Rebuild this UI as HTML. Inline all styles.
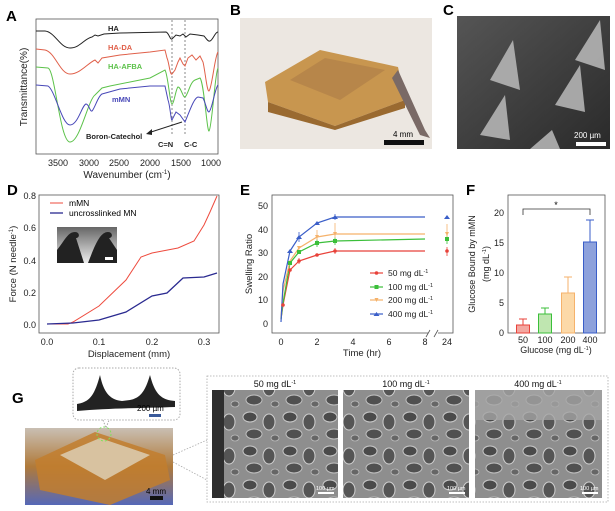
<!DOCTYPE html>
<html><head><meta charset="utf-8"><style>
html,body{margin:0;padding:0;background:#fff;}
svg{display:block;font-family:"Liberation Sans",Arial,sans-serif;}
</style></head><body>
<svg width="615" height="511" viewBox="0 0 615 511" xmlns="http://www.w3.org/2000/svg">
<defs>
<linearGradient id="gC" x1="0" y1="0" x2="1" y2="1"><stop offset="0" stop-color="#555"/><stop offset="1" stop-color="#2a2a2a"/></linearGradient>
<linearGradient id="gI" x1="0" y1="0" x2="0" y2="1"><stop offset="0" stop-color="#666"/><stop offset="1" stop-color="#eee"/></linearGradient>
<linearGradient id="gG" x1="0" y1="0" x2="0" y2="1"><stop offset="0" stop-color="#c9bfb3"/><stop offset="0.5" stop-color="#b07a3a"/><stop offset="1" stop-color="#5568b8"/></linearGradient>
<pattern id="sem" width="40" height="34" patternUnits="userSpaceOnUse"><rect width="40" height="34" fill="#8e8e8e"/>
<ellipse cx="10" cy="9" rx="7" ry="5" fill="#4a4a4a" stroke="#c8c8c8" stroke-width="1"/>
<ellipse cx="29" cy="14" rx="6" ry="8" fill="#555" stroke="#cfcfcf" stroke-width="1"/>
<ellipse cx="14" cy="26" rx="8" ry="5" fill="#505050" stroke="#c0c0c0" stroke-width="1"/>
<ellipse cx="35" cy="30" rx="4" ry="3" fill="#666" stroke="#bbb" stroke-width="0.8"/>
</pattern>
</defs>

<!-- Panel A -->
<text x="6" y="21" font-size="15" font-weight="bold">A</text>
<rect x="36" y="19" width="182" height="135" fill="none" stroke="#555" stroke-width="0.8"/>
<g stroke-width="1" fill="none">
<line x1="172" y1="20" x2="172" y2="136" stroke="#888" stroke-dasharray="2,2"/>
<line x1="185" y1="20" x2="185" y2="136" stroke="#888" stroke-dasharray="2,2"/>
<path stroke="#222" d="M36,31 L45,31 C55,32 60,48 70,48 C80,48 85,38 92,37 L95,35 L98,36 L104,34 L120,33 L166,32 C169,33 170,40 172,39 L176,35 L180,36 L183,34 L186,37 L190,34 L198,35 L204,36 C206,38 208,42 210,41 C213,40 215,32 218,32"/>
<path stroke="#e0604a" d="M36,49 L45,50 C55,52 60,74 70,74 C80,74 88,63 95,60 L98,63 L102,58 L120,55 L150,52 L165,50 L167,58 C169,62 170,76 172,74 L175,70 L178,62 L180,58 L183,64 L185,66 L188,58 L192,55 L196,60 L200,56 L203,62 C205,70 207,92 209,91 C212,88 215,55 218,52"/>
<path stroke="#5cc24a" d="M36,67 L48,68 C55,70 60,142 70,142 C80,142 88,100 95,95 L98,92 L102,88 L110,86 L130,82 L150,78 L165,70 C168,75 170,104 172,104 C174,104 176,88 178,87 C181,87 183,98 185,97 C188,95 190,82 195,80 L200,78 C204,82 207,132 209,131 C212,128 215,72 218,68"/>
<path stroke="#4848b8" d="M36,85 L48,86 C55,90 62,125 70,125 C78,125 82,105 86,104 C89,104 90,112 92,111 C95,108 98,96 102,94 L120,89 L150,86 L165,86 L168,100 C170,105 171,121 172,120 L176,112 L180,115 L185,122 C190,110 194,98 198,97 L203,98 C206,104 207,112 209,112 C212,110 215,88 218,85"/>
<line x1="182" y1="122" x2="148" y2="133" stroke="#222"/>
</g>
<path d="M146,134 L152,129 L152,135 Z" fill="#222"/>
<g font-size="7.5" font-weight="bold">
<text x="108" y="31" fill="#222">HA</text>
<text x="108" y="50" fill="#e0604a">HA-DA</text>
<text x="108" y="69" fill="#5cc24a">HA-AFBA</text>
<text x="112" y="102" fill="#4848b8">mMN</text>
<text x="86" y="139" fill="#222">Boron-Catechol</text>
<text x="158" y="147" fill="#222">C=N</text>
<text x="184" y="147" fill="#222">C-C</text>
</g>
<g font-size="9" fill="#222" text-anchor="middle">
<text x="58" y="166">3500</text><text x="89" y="166">3000</text><text x="119" y="166">2500</text><text x="150" y="166">2000</text><text x="181" y="166">1500</text><text x="211" y="166">1000</text>
<text x="127" y="178" font-size="10">Wavenumber (cm<tspan font-size="6" dy="-4">-1</tspan><tspan dy="4">)</tspan></text>
<text transform="translate(27,87) rotate(-90)" font-size="10">Transmittance(%)</text>
</g>

<!-- Panel B -->
<text x="230" y="15" font-size="15" font-weight="bold">B</text>
<rect x="240" y="18" width="192" height="131" fill="#ece7e1"/>
<path d="M265,82 L320,50 L398,67 L405,100 L335,126 L268,102 Z" fill="#c8964f"/>
<path d="M268,102 L335,126 L405,100 L405,108 L335,130 L268,112 Z" fill="#9a6a30"/>
<path d="M290,80 L325,58 L385,70 L340,100 Z" fill="#b7864a"/>
<path d="M398,70 L425,130 L430,138 L420,135 L392,78 Z" fill="#7a6a66"/>
<rect x="384" y="140" width="40" height="5" fill="#111"/>
<text x="393" y="137" font-size="8">4 mm</text>

<!-- Panel C -->
<text x="443" y="15" font-size="15" font-weight="bold">C</text>
<rect x="457" y="16" width="153" height="133" fill="url(#gC)"/>
<g fill="#bbb" opacity="0.85">
<path d="M513,40 L520,90 L490,80 Z"/><path d="M600,20 L605,70 L575,60 Z"/><path d="M580,65 L585,112 L555,105 Z"/><path d="M505,95 L510,140 L480,135 Z"/><path d="M552,130 L560,149 L530,149 Z"/>
</g>
<rect x="576" y="142" width="30" height="4" fill="#fff"/>
<text x="574" y="138" font-size="8" fill="#fff">200 µm</text>

<!-- Panel D -->
<text x="7" y="195" font-size="15" font-weight="bold">D</text>
<rect x="39" y="195" width="180" height="138" fill="none" stroke="#555" stroke-width="0.8"/>
<g font-size="9" fill="#222" text-anchor="end">
<text x="36" y="328">0.0</text><text x="36" y="296">0.2</text><text x="36" y="264">0.4</text><text x="36" y="231">0.6</text><text x="36" y="199">0.8</text>
</g>
<g font-size="9" fill="#222" text-anchor="middle">
<text x="47" y="345">0.0</text><text x="99" y="345">0.1</text><text x="152" y="345">0.2</text><text x="204" y="345">0.3</text>
<text x="129" y="357" font-size="9.5">Displacement (mm)</text>
<text transform="translate(16,264) rotate(-90)" font-size="9.5">Force (N needle<tspan font-size="6" dy="-3">-1</tspan><tspan dy="3">)</tspan></text>
</g>
<polyline fill="none" stroke="#ee4b3e" stroke-width="1" points="47,324 68,324 73,322 99,306 126,280 141,257 152,253 178,248 194,241 204,225 210,212 217,196"/>
<polyline fill="none" stroke="#2a2a90" stroke-width="1.3" points="47,324 73,323 99,320 126,312 152,296 167,293 183,278 204,277 217,273"/>
<line x1="50" y1="203" x2="63" y2="203" stroke="#ee4b3e"/><text x="69" y="206" font-size="8.5">mMN</text>
<line x1="50" y1="213" x2="63" y2="213" stroke="#2a2a90" stroke-width="1.3"/><text x="69" y="216" font-size="8.5">uncrosslinked MN</text>
<rect x="57" y="227" width="60" height="36" fill="url(#gI)"/>
<path d="M57,263 L57,250 C65,240 68,232 75,232 C80,232 80,238 76,238 L84,263 Z M88,263 C95,245 100,232 108,232 C113,232 113,238 109,238 L117,250 L117,263 Z" fill="#222"/>
<rect x="105" y="257" width="8" height="3" fill="#fff"/>

<!-- Panel E -->
<text x="240" y="195" font-size="15" font-weight="bold">E</text>
<rect x="272" y="195" width="181" height="138" fill="none" stroke="#555" stroke-width="0.8"/>
<rect x="428" y="330" width="10" height="6" fill="#fff"/>
<line x1="426" y1="337" x2="430" y2="330" stroke="#555" stroke-width="0.8"/><line x1="434" y1="337" x2="438" y2="330" stroke="#555" stroke-width="0.8"/>
<g font-size="9" fill="#222" text-anchor="end">
<text x="268" y="327">0</text><text x="268" y="303">10</text><text x="268" y="280">20</text><text x="268" y="256">30</text><text x="268" y="233">40</text><text x="268" y="209">50</text>
</g>
<g font-size="9" fill="#222" text-anchor="middle">
<text x="281" y="345">0</text><text x="317" y="345">2</text><text x="353" y="345">4</text><text x="389" y="345">6</text><text x="425" y="345">8</text><text x="447" y="345">24</text>
<text x="362" y="356" font-size="9.5">Time (hr)</text>
<text transform="translate(252,264) rotate(-90)" font-size="9.5">Swelling  Ratio</text>
</g>
<g fill="none" stroke-width="1.2">
<polyline stroke="#e8423a" points="281,319 283,305 290,270 299,261 317,255 335,251 425,251"/>
<polyline stroke="#3bbf3a" points="281,319 283,303 290,263 299,252 317,243 335,241 425,239"/>
<polyline stroke="#f5b26b" points="281,317 283,291 290,261 299,248 317,237 335,234 425,234"/>
<polyline stroke="#3a5ec8" points="281,322 283,284 290,251 299,237 317,223 335,217 425,217"/>
</g>
<g stroke-width="0.8">
<line x1="299" y1="258" x2="299" y2="264" stroke="#e8423a"/><line x1="335" y1="248" x2="335" y2="254" stroke="#e8423a"/><line x1="447" y1="247" x2="447" y2="256" stroke="#e8423a"/>
<line x1="317" y1="239" x2="317" y2="247" stroke="#3bbf3a"/><line x1="335" y1="237" x2="335" y2="245" stroke="#3bbf3a"/><line x1="447" y1="235" x2="447" y2="244" stroke="#3bbf3a"/>
<line x1="317" y1="230" x2="317" y2="240" stroke="#f5b26b"/><line x1="335" y1="223" x2="335" y2="238" stroke="#f5b26b"/><line x1="447" y1="224" x2="447" y2="238" stroke="#f5b26b"/>
<line x1="299" y1="232" x2="299" y2="242" stroke="#3a5ec8"/><line x1="335" y1="214" x2="335" y2="220" stroke="#3a5ec8"/>
</g>
<g fill="#e8423a"><circle cx="283" cy="305" r="1.8"/><circle cx="290" cy="270" r="1.8"/><circle cx="299" cy="261" r="1.8"/><circle cx="317" cy="255" r="1.8"/><circle cx="335" cy="251" r="1.8"/><circle cx="447" cy="251" r="1.8"/></g>
<g fill="#3bbf3a"><rect x="288" y="261" width="4" height="4"/><rect x="297" y="250" width="4" height="4"/><rect x="315" y="241" width="4" height="4"/><rect x="333" y="239" width="4" height="4"/><rect x="445" y="237" width="4" height="4"/></g>
<g fill="#f5b26b"><path d="M297,246 L301,246 L299,250Z"/><path d="M315,235 L319,235 L317,239Z"/><path d="M333,232 L337,232 L335,236Z"/><path d="M445,232 L449,232 L447,236Z"/></g>
<g fill="#3a5ec8"><path d="M290,249 L293,253 L287,253Z"/><path d="M299,235 L302,239 L296,239Z"/><path d="M317,221 L320,225 L314,225Z"/><path d="M335,215 L338,219 L332,219Z"/><path d="M447,215 L450,219 L444,219Z"/></g>
<g font-size="8.5" fill="#222">
<line x1="370" y1="273" x2="383" y2="273" stroke="#e8423a" stroke-width="1.2"/><circle cx="376.5" cy="273" r="1.8" fill="#e8423a"/><text x="388" y="276">50 mg dL<tspan font-size="5.5" dy="-3">-1</tspan></text>
<line x1="370" y1="287" x2="383" y2="287" stroke="#3bbf3a" stroke-width="1.2"/><rect x="374.5" y="285" width="4" height="4" fill="#3bbf3a"/><text x="388" y="290">100 mg dL<tspan font-size="5.5" dy="-3">-1</tspan></text>
<line x1="370" y1="300" x2="383" y2="300" stroke="#f5b26b" stroke-width="1.2"/><path d="M374.5,298 L378.5,298 L376.5,302Z" fill="#f5b26b"/><text x="388" y="303">200 mg dL<tspan font-size="5.5" dy="-3">-1</tspan></text>
<line x1="370" y1="314" x2="383" y2="314" stroke="#3a5ec8" stroke-width="1.2"/><path d="M376.5,312 L379.5,316 L373.5,316Z" fill="#3a5ec8"/><text x="388" y="317">400 mg dL<tspan font-size="5.5" dy="-3">-1</tspan></text>
</g>

<!-- Panel F -->
<text x="466" y="195" font-size="15" font-weight="bold">F</text>
<rect x="508" y="195" width="97" height="138" fill="none" stroke="#555" stroke-width="0.8"/>
<g font-size="9" fill="#222" text-anchor="end">
<text x="504" y="336">0</text><text x="504" y="306">5</text><text x="504" y="276">10</text><text x="504" y="246">15</text><text x="504" y="216">20</text>
</g>
<g stroke-width="1">
<line x1="523" y1="325" x2="523" y2="319" stroke="#e8423a"/><line x1="519" y1="319" x2="527" y2="319" stroke="#e8423a"/>
<rect x="516.5" y="325" width="13" height="8" fill="#f3a7a0" stroke="#e8423a"/>
<line x1="545" y1="314" x2="545" y2="308" stroke="#3bbf3a"/><line x1="541" y1="308" x2="549" y2="308" stroke="#3bbf3a"/>
<rect x="538.5" y="314" width="13" height="19" fill="#bfe6b0" stroke="#3bbf3a"/>
<line x1="568" y1="293" x2="568" y2="277" stroke="#f5b26b"/><line x1="564" y1="277" x2="572" y2="277" stroke="#f5b26b"/>
<rect x="561.5" y="293" width="13" height="40" fill="#fcd9a8" stroke="#f5b26b"/>
<line x1="590" y1="242" x2="590" y2="220" stroke="#3a5ec8"/><line x1="586" y1="220" x2="594" y2="220" stroke="#3a5ec8"/>
<rect x="583.5" y="242" width="13" height="91" fill="#8ea2dc" stroke="#3a5ec8"/>
</g>
<path d="M523,215 L523,209 L590,209 L590,215" fill="none" stroke="#333" stroke-width="0.8"/>
<text x="556" y="208" font-size="9" text-anchor="middle">*</text>
<g font-size="9" fill="#222" text-anchor="middle">
<text x="523" y="343">50</text><text x="545" y="343">100</text><text x="568" y="343">200</text><text x="590" y="343">400</text>
<text x="556" y="353" font-size="9">Glucose (mg dL<tspan font-size="5.5" dy="-3">-1</tspan><tspan dy="3">)</tspan></text>
<text transform="translate(475,264) rotate(-90)" font-size="9">Glucose Bound by mMN</text>
<text transform="translate(489,264) rotate(-90)" font-size="9">(mg dL<tspan font-size="5.5" dy="-3">-1</tspan><tspan dy="3">)</tspan></text>
</g>

<!-- Panel G -->
<text x="12" y="403" font-size="15" font-weight="bold">G</text>
<rect x="73" y="368" width="107" height="52" rx="6" fill="#fff" stroke="#aaa" stroke-dasharray="1.5,1.5"/>
<path d="M77,404 C88,402 94,398 100,375 C104,395 112,400 122,401 L130,400 C140,398 145,392 150,375 C155,395 162,400 175,401 L175,407 C150,408 110,408 77,411 Z" fill="#222"/>
<rect x="149" y="414" width="12" height="3" fill="#3a5a9a"/>
<text x="137" y="411" font-size="8">200 µm</text>
<path d="M103,420 L106,428 L109,420" fill="#fff" stroke="#aaa" stroke-dasharray="1.5,1.5"/>
<rect x="25" y="428" width="148" height="77" fill="url(#gG)"/>
<path d="M35,460 L95,432 L165,455 L170,480 L110,505 L40,490 Z" fill="#c27e2e" opacity="0.85"/>
<path d="M60,455 L100,438 L150,455 L105,480 Z" fill="#d8c2a0"/>
<circle cx="104" cy="434" r="7" fill="none" stroke="#7ee05a" stroke-dasharray="2,2"/>
<rect x="150" y="496" width="13" height="4" fill="#111"/>
<text x="146" y="494" font-size="8">4 mm</text>
<line x1="173" y1="455" x2="207" y2="440" stroke="#aaa" stroke-dasharray="1.5,1.5" stroke-width="0.8"/>
<line x1="173" y1="462" x2="207" y2="480" stroke="#aaa" stroke-dasharray="1.5,1.5" stroke-width="0.8"/>
<rect x="207" y="376" width="401" height="126" fill="#fff" stroke="#aaa" stroke-dasharray="1.5,1.5" stroke-width="0.8"/>
<g font-size="9" text-anchor="middle" fill="#111">
<text x="275" y="387">50 mg dL<tspan font-size="5.5" dy="-3">-1</tspan></text>
<text x="406" y="387">100 mg dL<tspan font-size="5.5" dy="-3">-1</tspan></text>
<text x="538" y="387">400 mg dL<tspan font-size="5.5" dy="-3">-1</tspan></text>
</g>
<rect x="212" y="390" width="126" height="108" fill="url(#sem)"/>
<rect x="212" y="390" width="12" height="108" fill="#2e2e2e"/>
<rect x="343" y="390" width="126" height="108" fill="url(#sem)"/>
<rect x="475" y="390" width="127" height="108" fill="url(#sem)"/>
<rect x="475" y="390" width="127" height="30" fill="#a5a5a5" opacity="0.8"/>
<g fill="#fff" font-size="5.5"><rect x="318" y="492" width="16" height="2"/><text x="316" y="490">100 µm</text><rect x="449" y="492" width="16" height="2"/><text x="447" y="490">100 µm</text><rect x="582" y="492" width="16" height="2"/><text x="580" y="490">100 µm</text></g>
</svg>
</body></html>
